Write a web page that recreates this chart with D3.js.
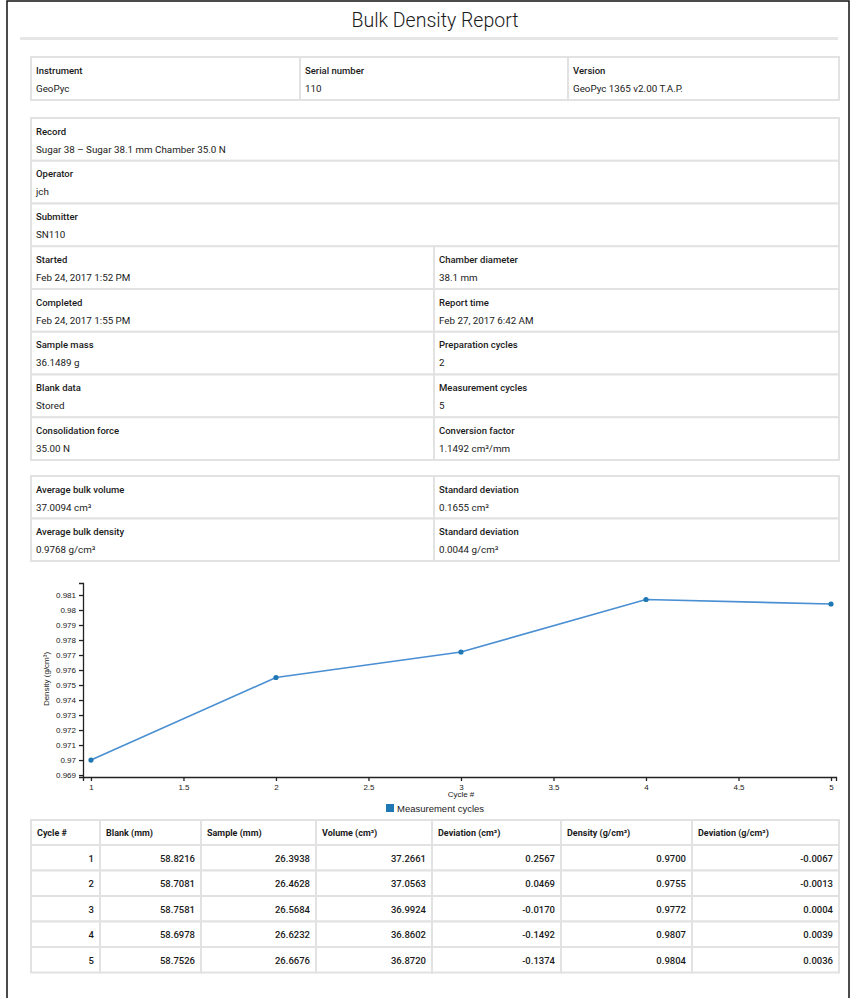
<!DOCTYPE html>
<html>
<head>
<meta charset="utf-8">
<script src="https://cdn.jsdelivr.net/npm/d3@7"></script>
<style>
  body { margin: 0; background: #fff; }
  text { font-family: Roboto, "Noto Sans", sans-serif; fill: #1a1a1a; }
  .lbl { font-size: 9.5px; font-weight: 500; }
  .val { font-size: 9.8px; font-weight: 400; }
  .axis text { font-family: "Liberation Sans", Arial, sans-serif; font-size: 8px; fill: #222; }
  .axis path, .axis line { stroke: #222; stroke-width: 1.3; }
</style>
</head>
<body>
<div id="page"></div>
<script>
// measurement data
var cycles    = [1, 2, 3, 4, 5];
var blank     = [58.8216, 58.7081, 58.7581, 58.6978, 58.7526];
var sample    = [26.3938, 26.4628, 26.5684, 26.6232, 26.6676];
var volume    = [37.2661, 37.0563, 36.9924, 36.8602, 36.8720];
var volDev    = [0.2567, 0.0469, -0.0170, -0.1492, -0.1374];
var density   = [0.9700, 0.9755, 0.9772, 0.9807, 0.9804];
var densDev   = [-0.0067, -0.0013, 0.0004, 0.0039, 0.0036];
var colHeads  = ["Cycle #", "Blank (mm)", "Sample (mm)", "Volume (cm³)", "Deviation (cm³)", "Density (g/cm³)", "Deviation (g/cm³)"];

// report header fields
var instrumentRow = [["Instrument", "GeoPyc"], ["Serial number", "110"], ["Version", "GeoPyc 1365 v2.00 T.A.P."]];
var singleRows = [["Record", "Sugar 38 – Sugar 38.1 mm Chamber 35.0 N"], ["Operator", "jch"], ["Submitter", "SN110"]];
var pairRows = [
  [["Started", "Feb 24, 2017 1:52 PM"], ["Chamber diameter", "38.1 mm"]],
  [["Completed", "Feb 24, 2017 1:55 PM"], ["Report time", "Feb 27, 2017 6:42 AM"]],
  [["Sample mass", "36.1489 g"], ["Preparation cycles", "2"]],
  [["Blank data", "Stored"], ["Measurement cycles", "5"]],
  [["Consolidation force", "35.00 N"], ["Conversion factor", "1.1492 cm³/mm"]]
];
var summaryRows = [
  [["Average bulk volume", "37.0094 cm³"], ["Standard deviation", "0.1655 cm³"]],
  [["Average bulk density", "0.9768 g/cm³"], ["Standard deviation", "0.0044 g/cm³"]]
];

var W = 857, H = 998;
var svg = d3.select("#page").append("svg")
    .attr("width", W)
    .attr("height", H);

// page frame
svg.append("rect")
    .attr("x", 7).attr("y", 1)
    .attr("width", 842).attr("height", H + 20)
    .attr("fill", "none").attr("stroke", "#111").attr("stroke-width", 1.5);

svg.append("text")
    .attr("x", 435).attr("y", 27)
    .attr("text-anchor", "middle")
    .style("font-size", "19.5px").style("font-weight", 300)
    .text("Bulk Density Report");

svg.append("rect")
    .attr("x", 20).attr("y", 37).attr("width", 818).attr("height", 3)
    .attr("fill", "#e6e6e6");

var cellStroke = "#e2e2e2";

function infoCell(x0, x1, top, h, field) {
  var g = svg.append("g");
  g.append("rect")
      .attr("x", x0).attr("y", top)
      .attr("width", x1 - x0).attr("height", h)
      .attr("fill", "#fff").attr("stroke", cellStroke).attr("stroke-width", 2);
  g.append("text").attr("class", "lbl")
      .attr("x", x0 + 5).attr("y", top + 16.5).text(field[0]);
  g.append("text").attr("class", "val")
      .attr("x", x0 + 5).attr("y", top + 34.5).text(field[1]);
}

/* instrument table */
var instCols = [31, 300, 568, 839];
instrumentRow.forEach(function(f, i) { infoCell(instCols[i], instCols[i + 1], 57, 43, f); });

/* record table */
var rowH = 42.75, t2 = 118;
singleRows.forEach(function(f, i) { infoCell(31, 839, t2 + i * rowH, rowH, f); });
pairRows.forEach(function(pair, i) {
  var top = t2 + (i + 3) * rowH;
  infoCell(31, 434, top, rowH, pair[0]);
  infoCell(434, 839, top, rowH, pair[1]);
});

/* summary table */
summaryRows.forEach(function(pair, i) {
  var top = 476 + i * 42.5;
  infoCell(31, 434, top, 42.5, pair[0]);
  infoCell(434, 839, top, 42.5, pair[1]);
});

/* density chart */
var x = d3.scaleLinear().domain([0.957, 5.027]).range([83, 836]);
var y = d3.scaleLinear().domain([0.96887, 0.9818]).range([777, 583]);

svg.append("g").attr("class", "axis")
    .attr("transform", "translate(0,777)")
    .call(d3.axisBottom(x).tickSize(4).tickFormat(d3.format("~g")));

svg.append("g").attr("class", "axis")
    .attr("transform", "translate(83,0)")
    .call(d3.axisLeft(y).tickSize(4).tickFormat(function(d) { return +d.toFixed(3); }));

svg.append("text")
    .attr("transform", "translate(49,679) rotate(-90)")
    .attr("text-anchor", "middle")
    .style("font-family", "Liberation Sans, Arial, sans-serif")
    .style("font-size", "8px")
    .text("Density (g/cm³)");

svg.append("text")
    .attr("x", x(3)).attr("y", 797)
    .attr("text-anchor", "middle")
    .style("font-family", "Liberation Sans, Arial, sans-serif")
    .style("font-size", "8px")
    .text("Cycle #");

var pts = cycles.map(function(c, i) { return {c: c, d: density[i]}; });

svg.append("path")
    .datum(pts)
    .attr("fill", "none")
    .attr("stroke", "#4a8fd2")
    .attr("stroke-width", 1.6)
    .attr("d", d3.line().x(function(p) { return x(p.c); }).y(function(p) { return y(p.d); }));

svg.selectAll(".dot")
    .data(pts)
    .enter()
    .append("circle")
    .attr("class", "dot")
    .attr("cx", function(p) { return x(p.c); })
    .attr("cy", function(p) { return y(p.d); })
    .attr("r", 2.6)
    .attr("fill", "#1f77b4");

// legend
svg.append("rect")
    .attr("x", 386).attr("y", 804).attr("width", 8).attr("height", 8)
    .attr("fill", "#1f77b4");
svg.append("text")
    .attr("x", 397).attr("y", 811.5)
    .style("font-family", "Liberation Sans, Arial, sans-serif")
    .style("font-size", "9.5px")
    .text("Measurement cycles");

/* cycle table */
var tCols = [31, 100, 201, 316, 432, 561, 692, 839];
var tTop = 820, headH = 25, tRowH = 25.5;

colHeads.forEach(function(h, i) {
  svg.append("rect")
      .attr("x", tCols[i]).attr("y", tTop)
      .attr("width", tCols[i + 1] - tCols[i]).attr("height", headH)
      .attr("fill", "#fff").attr("stroke", cellStroke).attr("stroke-width", 2);
  svg.append("text")
      .attr("x", tCols[i] + 6).attr("y", tTop + 16)
      .style("font-size", "9px").style("font-weight", 700)
      .text(h);
});

var rows = cycles.map(function(c, i) {
  return [String(c), blank[i].toFixed(4), sample[i].toFixed(4), volume[i].toFixed(4),
          volDev[i].toFixed(4), density[i].toFixed(4), densDev[i].toFixed(4)];
});

rows.forEach(function(r, ri) {
  var top = tTop + headH + ri * tRowH;
  r.forEach(function(v, ci) {
    svg.append("rect")
        .attr("x", tCols[ci]).attr("y", top)
        .attr("width", tCols[ci + 1] - tCols[ci]).attr("height", tRowH)
        .attr("fill", "#fff").attr("stroke", cellStroke).attr("stroke-width", 2);
    svg.append("text")
        .attr("x", tCols[ci + 1] - 6).attr("y", top + 16.5)
        .attr("text-anchor", "end")
        .style("font-size", "9.5px").style("font-weight", 500)
        .text(v);
  });
});
</script>
</body>
</html>
